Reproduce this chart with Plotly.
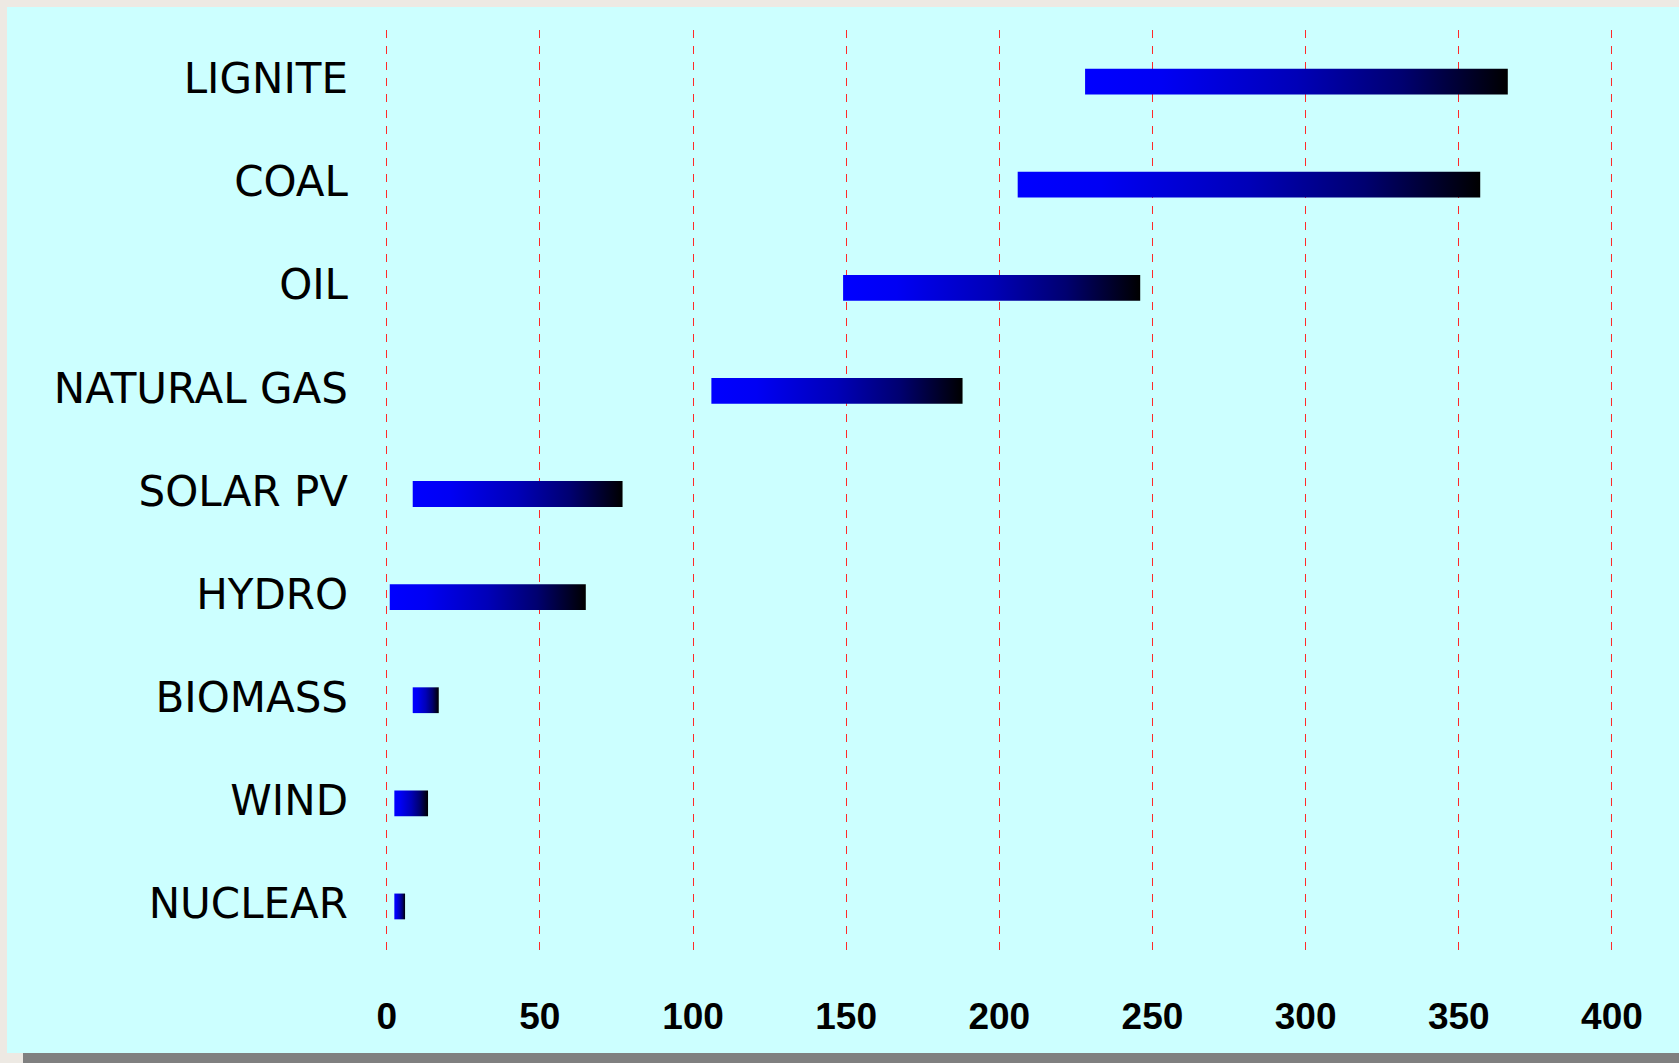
import plotly.graph_objects as go

# Emission range per energy source (low / high end of each band)
categories = ["NUCLEAR", "WIND", "BIOMASS", "HYDRO", "SOLAR PV",
              "NATURAL GAS", "OIL", "COAL", "LIGNITE"]
range_low = [2.5, 2.5, 8.5, 1, 8.5, 106, 149, 206, 228]
range_high = [6, 13.5, 17, 65, 77, 188, 246, 357, 366]
x_ticks = [0, 50, 100, 150, 200, 250, 300, 350, 400]

W, H = 1679, 1063
M_L, M_R, M_T, M_B = 385, 64, 30, 105
PW, PH = W - M_L - M_R, H - M_T - M_B
BAR_H = 0.25

CYAN = "#CCFFFF"
PAGE = "#EDE9E3"
SHADOW = "#808080"

gradient = [[0.0, "#0000FF"], [0.18, "#0000F4"], [0.5, "#0000B8"],
            [0.75, "#000070"], [1.0, "#000000"]]

fig = go.Figure()
for i, (cat, lo, hi) in enumerate(zip(categories, range_low, range_high)):
    y0, y1 = i - BAR_H / 2, i + BAR_H / 2
    fig.add_trace(go.Scatter(
        x=[lo, hi, hi, lo, lo],
        y=[y0, y0, y1, y1, y0],
        mode="none",
        fill="toself",
        fillgradient=dict(type="horizontal", colorscale=gradient),
        name=cat,
        hoveron="fills",
        showlegend=False,
    ))


def px_x(p):
    return (p - M_L) / PW


def px_y(p):
    return (H - M_B - p) / PH


shapes = [
    # drop shadow under the panel
    dict(type="rect", xref="paper", yref="paper", layer="below",
         x0=px_x(23), x1=px_x(W + 5), y0=px_y(H + 5), y1=px_y(1053),
         fillcolor=SHADOW, line=dict(width=0)),
    # cyan panel
    dict(type="rect", xref="paper", yref="paper", layer="below",
         x0=px_x(7), x1=px_x(W + 5), y0=px_y(1053), y1=px_y(7),
         fillcolor=CYAN, line=dict(width=0)),
]

fig.update_layout(
    width=W, height=H,
    margin=dict(l=M_L, r=M_R, t=M_T, b=M_B, pad=0),
    paper_bgcolor=PAGE,
    plot_bgcolor=CYAN,
    shapes=shapes,
    showlegend=False,
    xaxis=dict(
        range=[-0.55, 401],
        tickvals=x_ticks,
        ticktext=[str(v) for v in x_ticks],
        showgrid=True, gridcolor="#FF2A2A", gridwidth=1, griddash="8px,8px",
        zeroline=False, showline=False,
        ticks="", ticklabelstandoff=33,
        tickfont=dict(family="Liberation Sans, Arial, sans-serif", size=37,
                      color="#000000", weight="bold"),
        fixedrange=True,
    ),
    yaxis=dict(
        range=[-0.5, 8.5],
        tickvals=list(range(len(categories))),
        ticktext=categories,
        showgrid=False, zeroline=False, showline=False,
        ticks="", ticklabelstandoff=36, ticklabelshift=-3,
        tickfont=dict(family="Comic Sans MS, DejaVu Sans, sans-serif", size=42,
                      color="#000000"),
        fixedrange=True,
    ),
)

fig.write_html("out.html")
